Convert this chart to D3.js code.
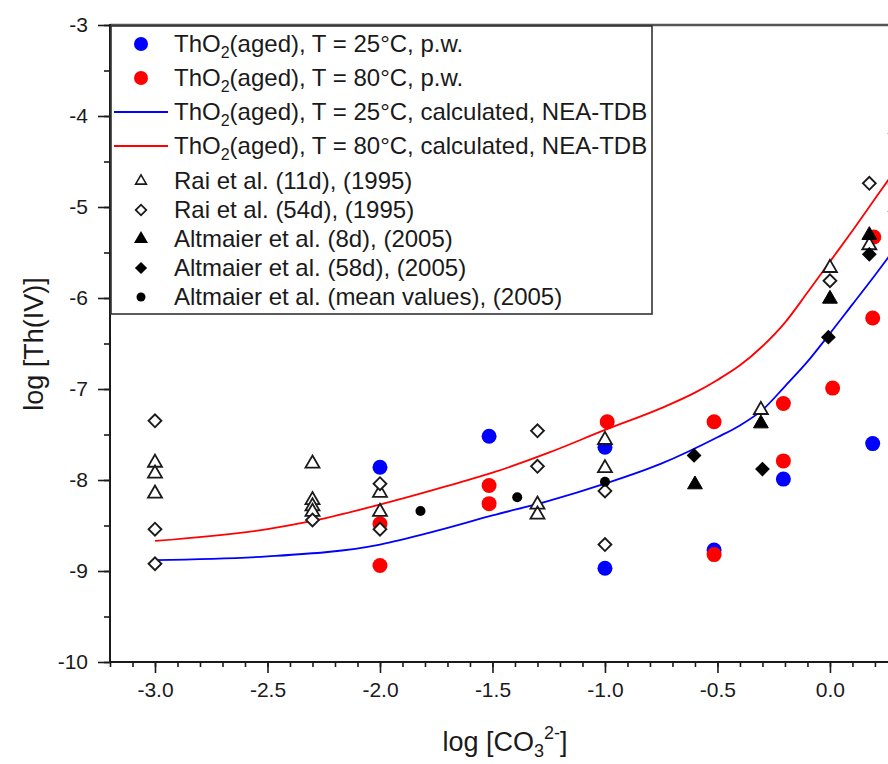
<!DOCTYPE html>
<html>
<head>
<meta charset="utf-8">
<script src="https://cdn.jsdelivr.net/npm/d3@7"></script>
<style>
  html, body { margin: 0; padding: 0; background: #fff; }
  svg { display: block; font-family: "Liberation Sans", Arial, sans-serif; }
</style>
</head>
<body>
<svg id="chart" width="888" height="764"></svg>
<script>
// ---------- data ----------
const xTicks = [-3.0, -2.5, -2.0, -1.5, -1.0, -0.5, 0.0];
const yTicks = [-10, -9, -8, -7, -6, -5, -4, -3];

const blue25 = [[-2.0,-7.86],[-1.515,-7.52],[-1.0,-7.64],[-1.0,-8.97],[-0.515,-8.77],[-0.207,-7.99],[0.19,-7.60]];
const red80 = [[-2.0,-8.48],[-2.0,-8.94],[-1.515,-8.06],[-1.515,-8.26],[-0.99,-7.36],[-0.515,-7.36],[-0.515,-8.82],
               [-0.207,-7.16],[-0.207,-7.79],[0.012,-6.99],[0.19,-6.22],[0.195,-5.33]];

const calc25 = [[-3.0,-8.88],[-2.5,-8.84],[-2.0,-8.71],[-1.75,-8.56],[-1.5,-8.39],[-1.25,-8.23],[-1.0,-8.04],
                [-0.75,-7.82],[-0.5,-7.53],[-0.4,-7.40],[-0.3,-7.23],[-0.2,-6.97],[-0.1,-6.70],[0.0,-6.39],
                [0.1,-6.07],[0.2,-5.75],[0.3,-5.42]];
const calc80 = [[-3.0,-8.67],[-2.5,-8.54],[-2.3,-8.45],[-2.0,-8.27],[-1.75,-8.10],[-1.5,-7.92],[-1.25,-7.70],
                [-1.0,-7.45],[-0.75,-7.21],[-0.6,-7.04],[-0.5,-6.90],[-0.4,-6.74],[-0.3,-6.53],[-0.2,-6.27],
                [-0.1,-5.94],[0.0,-5.60],[0.1,-5.26],[0.2,-4.91],[0.3,-4.56]];

const rai11 = [[-3.0,-7.81],[-3.0,-7.93],[-3.0,-8.15],[-2.30,-7.82],[-2.30,-8.22],[-2.30,-8.29],[-2.30,-8.35],
               [-2.0,-8.14],[-2.0,-8.35],[-1.30,-8.27],[-1.30,-8.38],[-1.0,-7.56],[-1.0,-7.87],
               [-0.307,-7.23],[0.0,-5.67],[0.175,-5.42]];
const rai54 = [[-3.0,-7.35],[-3.0,-8.54],[-3.0,-8.92],[-2.30,-8.44],[-2.0,-8.04],[-2.0,-8.54],[-1.30,-7.46],
               [-1.30,-7.85],[-1.0,-8.12],[-1.0,-8.71],[0.0,-5.81],[0.175,-4.74],
               [0.29,-4.19],[0.29,-4.75],[0.29,-5.05]];
const alt8 = [[-0.60,-8.05],[-0.307,-7.38],[0.0,-6.01],[0.175,-5.31]];
const alt58 = [[-0.604,-7.73],[-0.30,-7.88],[-0.007,-6.43],[0.175,-5.52]];
const altMean = [[-1.82,-8.34],[-1.39,-8.19],[-1.0,-8.02]];

// ---------- layout ----------
const svg = d3.select("#chart");
const pLeft = 110, pTop = 25, pBottom = 662, pRight = 888;
const x = d3.scaleLinear().domain([-3.2, 0.258]).range([pLeft, pRight]);
const y = d3.scaleLinear().domain([-10, -3]).range([pBottom, pTop]);

const BLUE = "#0000ff", RED = "#ff0000", INK = "#1a1a1a";
const FONT = "'Liberation Sans', Arial, sans-serif";

// clip
svg.append("defs").append("clipPath").attr("id", "clip")
  .append("rect").attr("x", pLeft).attr("y", pTop).attr("width", pRight - pLeft + 20).attr("height", pBottom - pTop);

// axes
const xMinor = d3.range(-32, 3).map(d => d / 10);
const yMinor = d3.range(-100, -29, 5).map(d => d / 10);

const xAxis = svg.append("g").attr("transform", `translate(0,${pBottom})`);
xAxis.append("g").call(d3.axisBottom(x).tickValues(xMinor).tickSize(5).tickFormat(""))
  .call(g => g.select(".domain").remove())
  .call(g => g.selectAll("line").attr("stroke", INK).attr("stroke-width", 1.6));
xAxis.append("g").call(d3.axisBottom(x).tickValues(xTicks).tickSize(11).tickPadding(9)
    .tickFormat(d => d3.format(".1f")(d).replace("−", "-")))
  .call(g => g.select(".domain").remove())
  .call(g => g.selectAll("line").attr("stroke", INK).attr("stroke-width", 1.6))
  .call(g => g.selectAll("text").attr("font-size", 21).attr("fill", INK).attr("font-family", FONT));

const yAxis = svg.append("g").attr("transform", `translate(${pLeft},0)`);
yAxis.append("g").call(d3.axisLeft(y).tickValues(yMinor).tickSize(6).tickFormat(""))
  .call(g => g.select(".domain").remove())
  .call(g => g.selectAll("line").attr("stroke", INK).attr("stroke-width", 1.6));
yAxis.append("g").call(d3.axisLeft(y).tickValues(yTicks).tickSize(12).tickPadding(10).tickFormat(d => String(d)))
  .call(g => g.select(".domain").remove())
  .call(g => g.selectAll("line").attr("stroke", INK).attr("stroke-width", 1.6))
  .call(g => g.selectAll("text").attr("font-size", 21).attr("fill", INK).attr("font-family", FONT));

// frame lines
svg.append("line").attr("x1", pLeft).attr("x2", pRight).attr("y1", pTop).attr("y2", pTop)
  .attr("stroke", "#555").attr("stroke-width", 2.5);
svg.append("line").attr("x1", pLeft).attr("x2", pRight).attr("y1", pBottom).attr("y2", pBottom)
  .attr("stroke", INK).attr("stroke-width", 2);
svg.append("line").attr("x1", pLeft).attr("x2", pLeft).attr("y1", pTop - 1).attr("y2", pBottom + 1)
  .attr("stroke", INK).attr("stroke-width", 2);

// axis titles
svg.append("text").attr("transform", `translate(43,344) rotate(-90)`).attr("text-anchor", "middle")
  .attr("font-size", 27).attr("fill", INK).text("log [Th(IV)]");
const xt = svg.append("text").attr("x", 505).attr("y", 751).attr("text-anchor", "middle")
  .attr("font-size", 27).attr("fill", INK);
xt.append("tspan").text("log [CO");
xt.append("tspan").attr("font-size", 18).attr("dy", 6).text("3");
xt.append("tspan").attr("font-size", 18).attr("dy", -18).text("2-");
xt.append("tspan").attr("dy", 12).text("]");

// plot content
const plot = svg.append("g").attr("clip-path", "url(#clip)");
const line = d3.line().x(d => x(d[0])).y(d => y(d[1])).curve(d3.curveMonotoneX);

plot.append("path").datum(calc25).attr("d", line).attr("fill", "none").attr("stroke", BLUE).attr("stroke-width", 1.8);
plot.append("path").datum(calc80).attr("d", line).attr("fill", "none").attr("stroke", RED).attr("stroke-width", 1.8);

function circles(data, color, r) {
  plot.append("g").selectAll("circle").data(data).join("circle")
    .attr("cx", d => x(d[0])).attr("cy", d => y(d[1])).attr("r", r).attr("fill", color);
}
function symbols(data, type, size, fill, stroke, sw, rot) {
  plot.append("g").selectAll("path").data(data).join("path")
    .attr("transform", d => `translate(${x(d[0])},${y(d[1])}) rotate(${rot || 0})`)
    .attr("d", d3.symbol().type(type).size(size))
    .attr("fill", fill).attr("stroke", stroke).attr("stroke-width", sw);
}
circles(blue25, BLUE, 7.5);
circles(red80, RED, 7.5);
symbols(rai11, d3.symbolTriangle, 85, "#fff", INK, 1.8);
symbols(rai54, d3.symbolSquare, 82, "#fff", INK, 1.9, 45);
symbols(alt8, d3.symbolTriangle, 95, "#000", "#000", 1);
symbols(alt58, d3.symbolSquare, 90, "#000", "#000", 1, 45);
circles(altMean, "#000", 5);

// legend
const lg = svg.append("g");
lg.append("rect").attr("x", 111).attr("y", 26).attr("width", 541).attr("height", 288)
  .attr("fill", "#fff").attr("stroke", "#333").attr("stroke-width", 1.6);

const legendItems = [
  {kind: "circle", color: BLUE, label: ["ThO", "2", "(aged), T = 25°C, p.w."], y: 44},
  {kind: "circle", color: RED, label: ["ThO", "2", "(aged), T = 80°C, p.w."], y: 78},
  {kind: "line", color: BLUE, label: ["ThO", "2", "(aged), T = 25°C, calculated, NEA-TDB"], y: 112},
  {kind: "line", color: RED, label: ["ThO", "2", "(aged), T = 80°C, calculated, NEA-TDB"], y: 146},
  {kind: "otri", label: ["Rai et al. (11d), (1995)"], y: 181},
  {kind: "odia", label: ["Rai et al. (54d), (1995)"], y: 210},
  {kind: "ftri", label: ["Altmaier et al. (8d), (2005)"], y: 239},
  {kind: "fdia", label: ["Altmaier et al. (58d), (2005)"], y: 268},
  {kind: "dot", label: ["Altmaier et al. (mean values), (2005)"], y: 297}
];
legendItems.forEach(it => {
  const g = lg.append("g").attr("transform", `translate(0,${it.y})`);
  const mx = 141;
  if (it.kind === "circle") g.append("circle").attr("cx", mx).attr("cy", 0).attr("r", 7).attr("fill", it.color);
  else if (it.kind === "line") g.append("line").attr("x1", 114).attr("x2", 168).attr("y1", 0).attr("y2", 0)
    .attr("stroke", it.color).attr("stroke-width", 1.8);
  else if (it.kind === "otri") g.append("path").attr("transform", `translate(${mx},0)`)
    .attr("d", d3.symbol().type(d3.symbolTriangle).size(50)).attr("fill", "#fff").attr("stroke", INK).attr("stroke-width", 1.6);
  else if (it.kind === "odia") g.append("path").attr("transform", `translate(${mx},0) rotate(45)`)
    .attr("d", d3.symbol().type(d3.symbolSquare).size(56)).attr("fill", "#fff").attr("stroke", INK).attr("stroke-width", 1.8);
  else if (it.kind === "ftri") g.append("path").attr("transform", `translate(${mx},0)`)
    .attr("d", d3.symbol().type(d3.symbolTriangle).size(85)).attr("fill", "#000");
  else if (it.kind === "fdia") g.append("path").attr("transform", `translate(${mx},0) rotate(45)`)
    .attr("d", d3.symbol().type(d3.symbolSquare).size(75)).attr("fill", "#000");
  else if (it.kind === "dot") g.append("circle").attr("cx", mx).attr("cy", 0).attr("r", 4.5).attr("fill", "#000");

  const t = g.append("text").attr("x", 174).attr("y", 8).attr("font-size", 24).attr("fill", INK);
  if (it.label.length === 3) {
    t.append("tspan").text(it.label[0]);
    t.append("tspan").attr("font-size", 16).attr("dy", 6).text(it.label[1]);
    t.append("tspan").attr("dy", -6).text(it.label[2]);
  } else {
    t.text(it.label[0]);
  }
});
</script>
</body>
</html>
